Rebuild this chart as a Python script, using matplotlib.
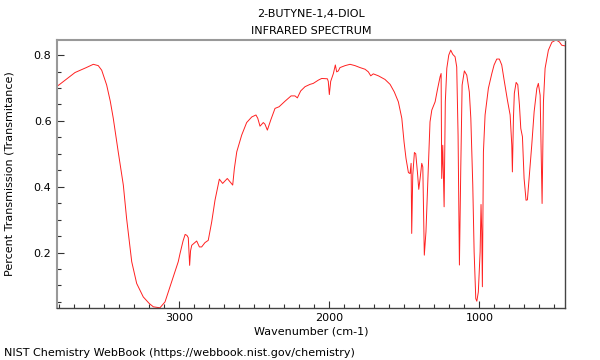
import matplotlib
matplotlib.use('Agg')
import matplotlib.pyplot as plt
from matplotlib.ticker import MultipleLocator

# Spectrum (wavenumber in cm-1, transmittance)
wavenumber = [
    3815, 3800, 3695, 3620, 3573, 3540, 3517, 3484, 3460, 3440, 3407, 3373,
    3351, 3317, 3284, 3240, 3200, 3173, 3129, 3095, 3051, 3007, 2995, 2975,
    2961, 2949, 2940, 2931, 2925, 2917, 2884, 2866, 2851, 2829, 2807, 2784,
    2762, 2733, 2711, 2680, 2662, 2644, 2633, 2617, 2584, 2551, 2517, 2489,
    2477, 2462, 2440, 2429, 2413, 2391, 2362, 2335, 2295, 2255, 2229, 2213,
    2191, 2162, 2129, 2107, 2073, 2051, 2013, 2007, 2000, 1991, 1973, 1960,
    1951, 1940, 1929, 1895, 1862, 1829, 1795, 1762, 1740, 1724, 1707, 1673,
    1629, 1595, 1567, 1540, 1517, 1502, 1489, 1473, 1462, 1455, 1451, 1444,
    1433, 1424, 1413, 1404, 1395, 1384, 1377, 1373, 1367, 1356, 1342, 1329,
    1317, 1295, 1280, 1262, 1255, 1251, 1244, 1235, 1227, 1217, 1204, 1191,
    1177, 1162, 1151, 1142, 1133, 1124, 1115, 1100, 1084, 1067, 1057, 1044,
    1035, 1024, 1017, 1007, 995, 989, 984, 980, 973, 962, 940, 917,
    902, 884, 867, 851, 835, 813, 795, 784, 780, 773, 767, 755,
    744, 733, 724, 713, 702, 689, 680, 667, 651, 635, 617, 607,
    595, 582, 573, 562, 540, 517, 489, 467, 451, 429,
]
transmittance = [
    0.705, 0.710, 0.747, 0.762, 0.772, 0.768, 0.754, 0.709, 0.660, 0.608, 0.506, 0.405,
    0.303, 0.172, 0.106, 0.065, 0.045, 0.035, 0.032, 0.050, 0.111, 0.172, 0.197, 0.235,
    0.255, 0.252, 0.245, 0.161, 0.205, 0.222, 0.235, 0.217, 0.217, 0.230, 0.237, 0.293,
    0.359, 0.423, 0.410, 0.425, 0.415, 0.405, 0.455, 0.506, 0.557, 0.595, 0.612, 0.618,
    0.608, 0.584, 0.595, 0.590, 0.572, 0.602, 0.638, 0.643, 0.660, 0.676, 0.676, 0.670,
    0.691, 0.704, 0.711, 0.714, 0.724, 0.729, 0.728, 0.720, 0.680, 0.720, 0.744, 0.770,
    0.749, 0.752, 0.762, 0.768, 0.772, 0.768, 0.762, 0.757, 0.749, 0.737, 0.743, 0.737,
    0.726, 0.711, 0.688, 0.658, 0.608, 0.536, 0.486, 0.443, 0.440, 0.471, 0.258, 0.435,
    0.504, 0.500, 0.445, 0.392, 0.425, 0.471, 0.460, 0.354, 0.192, 0.263, 0.435, 0.597,
    0.633, 0.658, 0.694, 0.734, 0.744, 0.425, 0.526, 0.339, 0.658, 0.760, 0.800, 0.815,
    0.802, 0.795, 0.764, 0.557, 0.162, 0.455, 0.709, 0.752, 0.739, 0.688, 0.608, 0.405,
    0.202, 0.060, 0.052, 0.080, 0.202, 0.346, 0.260, 0.096, 0.506, 0.618, 0.699, 0.744,
    0.770, 0.788, 0.788, 0.770, 0.724, 0.663, 0.618, 0.526, 0.445, 0.608, 0.684, 0.717,
    0.710, 0.648, 0.577, 0.552, 0.425, 0.359, 0.360, 0.435, 0.526, 0.628, 0.699, 0.714,
    0.678, 0.349, 0.658, 0.760, 0.815, 0.839, 0.846, 0.840, 0.830, 0.828,
]

x_ticks = [3000, 2000, 1000]
y_ticks = [0.2, 0.4, 0.6, 0.8]

fig = plt.figure(figsize=(6, 3.6), dpi=100)
ax = fig.add_axes([0.095, 0.145, 0.847, 0.744])

ax.plot(wavenumber, transmittance, color='#ff2020', lw=0.7)

ax.set_xlim(3815, 428)
ax.set_ylim(0.032, 0.846)

ax.set_xticks(x_ticks)
ax.set_yticks(y_ticks)
ax.xaxis.set_minor_locator(MultipleLocator(100))
ax.yaxis.set_minor_locator(MultipleLocator(0.05))
ax.tick_params(which='both', direction='in', labelsize=8, top=False, right=False,
               color='#333333', width=0.8)
ax.tick_params(which='major', length=5, pad=4)
ax.tick_params(which='minor', length=3)

for side in ['top', 'left']:
    ax.spines[side].set_color('#999999')
    ax.spines[side].set_linewidth(1.5)
for side in ['bottom', 'right']:
    ax.spines[side].set_color('#444444')
    ax.spines[side].set_linewidth(1.0)

ax.set_xlabel('Wavenumber (cm-1)', fontsize=8, labelpad=2)
ax.set_ylabel('Percent Transmission (Transmitance)', fontsize=8, labelpad=14)

fig.text(0.518, 0.96, '2-BUTYNE-1,4-DIOL', ha='center', va='center', fontsize=8)
fig.text(0.518, 0.915, 'INFRARED SPECTRUM', ha='center', va='center', fontsize=8)
fig.text(0.007, 0.02, 'NIST Chemistry WebBook (https://webbook.nist.gov/chemistry)',
         ha='left', va='center', fontsize=8)

fig.savefig('out.png', dpi=100)
